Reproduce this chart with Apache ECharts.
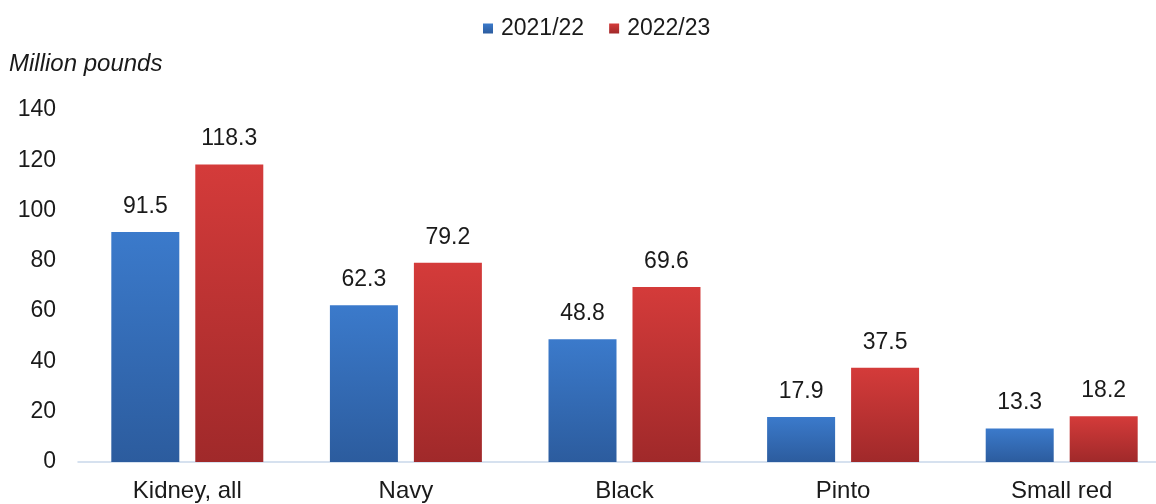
<!DOCTYPE html>
<html>
<head>
<meta charset="utf-8">
<script src="https://cdn.jsdelivr.net/npm/echarts@6/dist/echarts.min.js"></script>
<style>
  html, body { margin: 0; padding: 0; background: #ffffff; }
  #chart { width: 1156px; height: 504px; }
</style>
</head>
<body>
<div id="chart"></div>
<script>
// Dry bean supply by class, million pounds
const categories = ['Kidney, all', 'Navy', 'Black', 'Pinto', 'Small red'];
const seriesNames = ['2021/22', '2022/23'];
const values2122 = [91.5, 62.3, 48.8, 17.9, 13.3];
const values2223 = [118.3, 79.2, 69.6, 37.5, 18.2];
const yTicks = [0, 20, 40, 60, 80, 100, 120, 140];

const FONT = '"Liberation Sans", Arial, sans-serif';
const FS = 23;
const INK = '#1a1a1a';

function grad(top, bottom) {
  return new echarts.graphic.LinearGradient(0, 0, 0, 1, [
    { offset: 0, color: top },
    { offset: 1, color: bottom }
  ]);
}

const labelStyle = {
  show: true,
  position: 'top',
  distance: 14,
  fontFamily: FONT,
  fontSize: FS,
  color: INK,
  formatter: p => p.value.toFixed(1)
};

const chart = echarts.init(document.getElementById('chart'));
chart.setOption({
  animation: false,
  backgroundColor: '#ffffff',
  textStyle: { fontFamily: FONT },
  title: {
    text: 'Million pounds',
    left: 9,
    top: 52,
    padding: 0,
    textStyle: { fontFamily: FONT, fontSize: 24, fontStyle: 'italic', fontWeight: 'normal', color: INK }
  },
  legend: {
    top: 17,
    left: 483,
    padding: 0,
    itemWidth: 10,
    itemHeight: 10,
    itemGap: 25,
    icon: 'rect',
    textStyle: { fontFamily: FONT, fontSize: FS, color: INK, padding: [0, 0, 0, 3] },
    data: seriesNames
  },
  // the last category slot runs a little past the right edge of the canvas
  grid: { left: 78, width: 1093, top: 110, bottom: 42, outerBoundsMode: 'none', containLabel: false },
  xAxis: {
    type: 'category',
    data: categories,
    axisLine: { lineStyle: { color: '#c9d7ea', width: 1.5 } },
    axisTick: { show: false },
    axisLabel: { fontFamily: FONT, fontSize: 24, color: INK, margin: 17 }
  },
  yAxis: {
    type: 'value',
    min: yTicks[0],
    max: yTicks[yTicks.length - 1],
    interval: yTicks[1] - yTicks[0],
    splitLine: { show: false },
    axisLine: { show: false },
    axisTick: { show: false },
    axisLabel: { fontFamily: FONT, fontSize: FS, color: INK, margin: 22, padding: [5, 0, 0, 0] }
  },
  series: [
    {
      name: seriesNames[0],
      type: 'bar',
      data: values2122,
      barWidth: 68,
      barGap: '23.5%',
      itemStyle: { color: grad('#3b7acb', '#2c5c9e') },
      label: labelStyle
    },
    {
      name: seriesNames[1],
      type: 'bar',
      data: values2223,
      barWidth: 68,
      itemStyle: { color: grad('#d43b3a', '#a0292a') },
      label: labelStyle
    }
  ]
});
</script>
</body>
</html>
